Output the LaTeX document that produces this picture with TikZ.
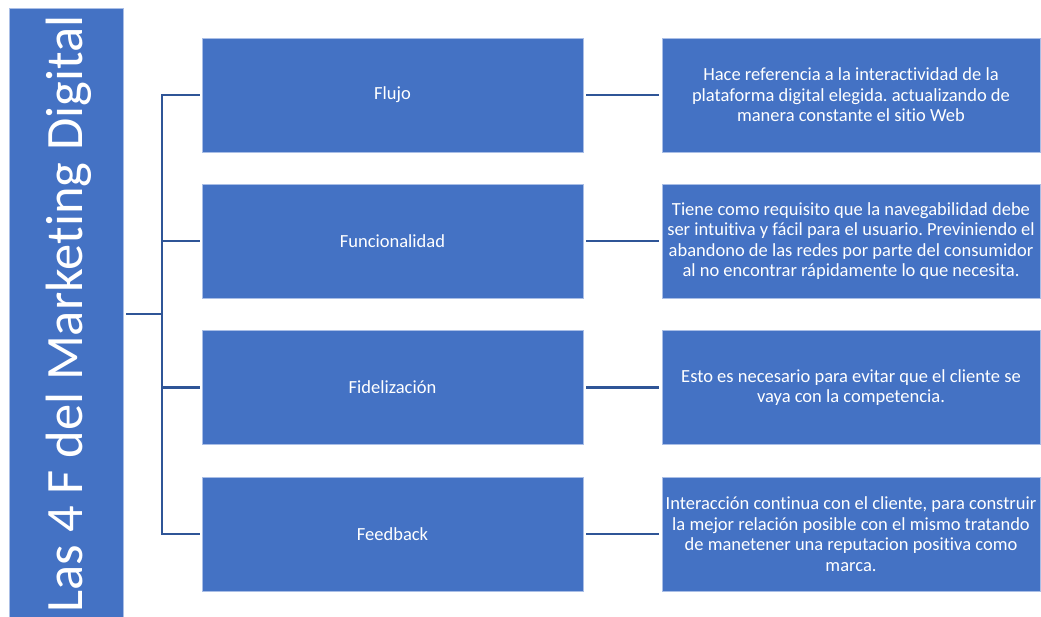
\documentclass[tikz,border=0pt]{standalone}
\usepackage{fontspec}
\setmainfont{Carlito}[Ligatures={NoCommon,NoContextual}]
\frenchspacing
\definecolor{boxblue}{HTML}{4472C4}
\definecolor{lineblue}{HTML}{2F5597}
\definecolor{edgeblue}{HTML}{A9BEE6}
\begin{document}
\frenchspacing
\begin{tikzpicture}[x=1pt,y=-1pt,
  box/.style={draw=edgeblue, line width=0.6pt, fill=boxblue, text=white,
    minimum height=114pt, inner sep=2pt, align=center,
    font=\fontsize{18.5}{20.5}\selectfont},
  midbox/.style={box, minimum width=381pt},
  descbox/.style={box, minimum width=378pt},
  conn/.style={draw=lineblue, line width=2.5pt}]
\useasboundingbox (0,0) rectangle (1041,616);
% title bar
\node[draw=edgeblue, line width=0.6pt, fill=boxblue, minimum width=114pt,
  minimum height=612pt, inner sep=0pt] (bar) at (66,314) {};
\node[rotate=90, anchor=base, inner sep=0pt, text=white,
  font=\fontsize{52.5}{60}\selectfont] (title) at (82,314) {Las 4 F del Marketing Digital};
% middle boxes
\node[midbox] (m1) at (392.5,95) {Flujo};
\node[midbox] (m2) at (392.5,241) {Funcionalidad};
\node[midbox] (m3) at (392.5,387.5) {Fidelización};
\node[midbox] (m4) at (392.5,534) {Feedback};
% description boxes
\node[descbox] (r1) at (851,95) {Hace referencia a la interactividad de la\\plataforma digital elegida. actualizando de\\manera constante el sitio Web};
\node[descbox] (r2) at (851,241) {Tiene como requisito que la navegabilidad debe\\ser intuitiva y fácil para el usuario. Previniendo el\\abandono de las redes por parte del consumidor\\al no encontrar rápidamente lo que necesita.};
\node[descbox] (r3) at (851,387.5) {Esto es necesario para evitar que el cliente se\\vaya con la competencia.};
\node[descbox] (r4) at (851,534) {Interacción continua con el cliente, para construir\\la mejor relación posible con el mismo tratando\\de manetener una reputacion positiva como\\marca.};
% connectors
\coordinate (spine) at (162,314);
\draw[conn, shorten <=3pt] (bar.east) -- (spine);
\draw[conn, shorten <=2pt, shorten >=2pt] (m1.west) -- (spine |- m1.west) -- (spine |- m4.west) -- (m4.west);
\draw[conn, shorten >=2pt] (spine |- m2.west) -- (m2.west);
\draw[conn, shorten >=2pt] (spine |- m3.west) -- (m3.west);
\draw[conn, shorten <=3pt, shorten >=3pt] (m1.east) -- (r1.west);
\draw[conn, shorten <=3pt, shorten >=3pt] (m2.east) -- (r2.west);
\draw[conn, shorten <=3pt, shorten >=3pt] (m3.east) -- (r3.west);
\draw[conn, shorten <=3pt, shorten >=3pt] (m4.east) -- (r4.west);
\end{tikzpicture}
\end{document}
